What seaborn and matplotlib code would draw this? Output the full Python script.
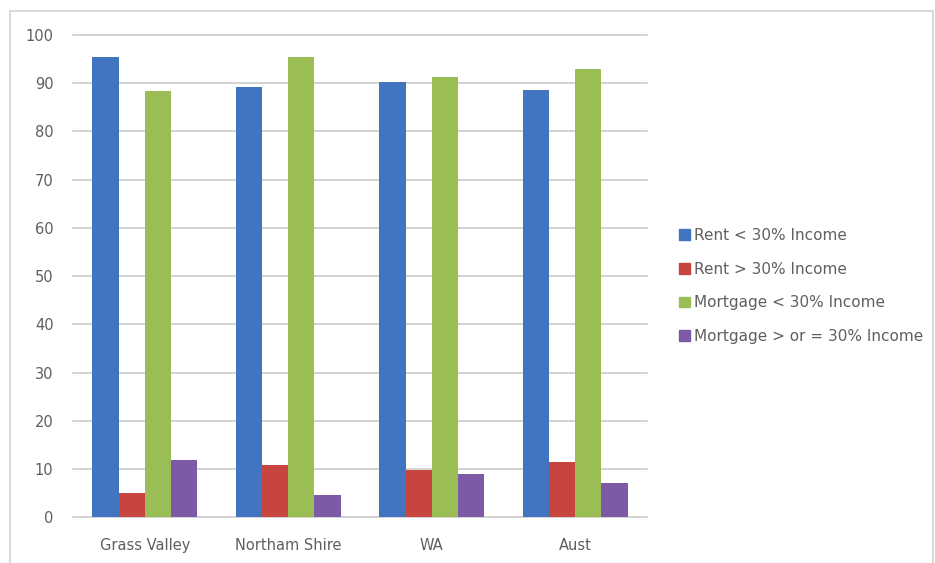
import matplotlib
matplotlib.use("Agg")
import matplotlib.pyplot as plt
import matplotlib.patches as mpatches
import seaborn as sns
import pandas as pd

categories = ["Grass Valley", "Northam Shire", "WA", "Aust"]
series_names = ["Rent < 30% Income", "Rent > 30% Income",
                "Mortgage < 30% Income", "Mortgage > or = 30% Income"]
rent_under = [95.4, 89.3, 90.3, 88.6]
rent_over = [5.1, 10.8, 9.8, 11.5]
mortgage_under = [88.3, 95.4, 91.2, 93.0]
mortgage_over = [11.8, 4.7, 8.9, 7.2]
y_ticks = [0, 10, 20, 30, 40, 50, 60, 70, 80, 90, 100]

colors = ["#4275C0", "#C8453F", "#9BBD55", "#7D5AA6"]

rows = []
for name, vals in zip(series_names, [rent_under, rent_over, mortgage_under, mortgage_over]):
    for c, v in zip(categories, vals):
        rows.append({"category": c, "series": name, "value": v})
df = pd.DataFrame(rows)

sns.set_theme(style="white")
plt.rcParams["font.family"] = ["DejaVu Sans"]

W, H = 935, 563
fig = plt.figure(figsize=(W / 100, H / 100), dpi=100)
ax = fig.add_axes([73 / W, 1 - 517.3 / H, (647 - 73) / W, (517.3 - 35) / H])

sns.barplot(data=df, x="category", y="value", hue="series", order=categories,
            hue_order=series_names, palette=colors, saturation=1, width=0.73,
            gap=0, linewidth=0, ax=ax, legend=False, errorbar=None, zorder=3)

ax.set_ylim(0, 100)
ax.set_xlim(-0.5, 3.5)
ax.set_yticks(y_ticks)
ax.set_xlabel("")
ax.set_ylabel("")
for s in ax.spines.values():
    s.set_visible(False)
for t in y_ticks:
    ax.axhline(t, color="#d3d3d3", lw=1.4, zorder=1, clip_on=False)
ax.tick_params(axis="both", length=0, labelsize=10.5, labelcolor="#5f5f5f")
ax.tick_params(axis="y", pad=14)
ax.tick_params(axis="x", pad=15)

handles = [mpatches.Patch(color=c, label=n) for c, n in zip(colors, series_names)]
leg = fig.legend(handles=handles, loc="upper left",
                 bbox_to_anchor=(679 / W, 1 - 228 / H), frameon=False,
                 fontsize=11, handlelength=0.7, handleheight=0.7,
                 handletextpad=0.3, labelspacing=1.22, borderaxespad=0,
                 borderpad=0)
for t in leg.get_texts():
    t.set_color("#5f5f5f")

border = mpatches.Rectangle((10 / W, -0.05), (933 - 10) / W, 1 - 11 / H + 0.05,
                            transform=fig.transFigure, fill=False,
                            edgecolor="#d9d9d9", lw=1.5)
fig.patches.append(border)

fig.savefig("out.png", dpi=100, facecolor="white")
